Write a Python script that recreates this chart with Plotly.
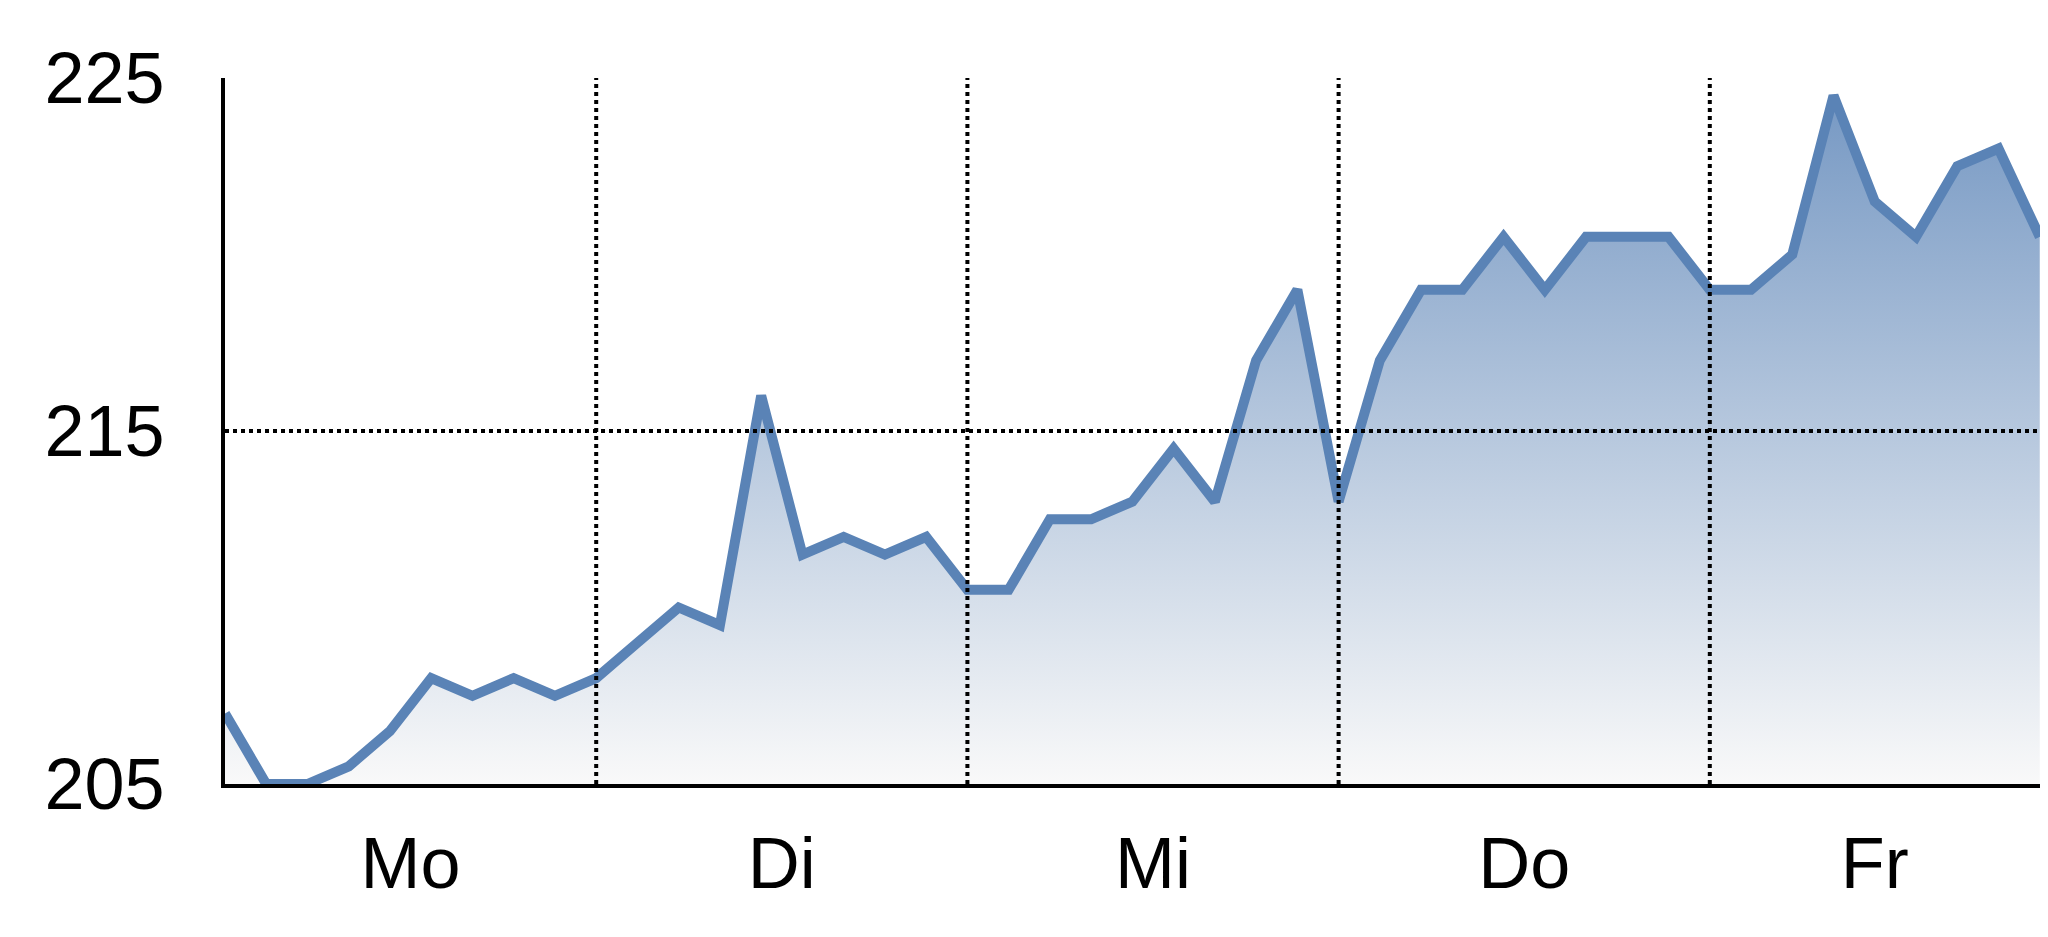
import plotly.graph_objects as go

# Kurs ueber die Woche, 9 Werte pro Tag
werte = [
    207, 205, 205, 205.5, 206.5, 208, 207.5, 208, 207.5,
    208, 209, 210, 209.5, 216, 211.5, 212, 211.5, 212,
    210.5, 210.5, 212.5, 212.5, 213, 214.5, 213, 217, 219,
    213, 217, 219, 219, 220.5, 219, 220.5, 220.5, 220.5,
    219, 219, 220, 224.5, 221.5, 220.5, 222.5, 223, 220.5,
]
tage = ["Mo", "Di", "Mi", "Do", "Fr"]
tag_pos = [4.5, 13.5, 22.5, 31.5, 40.0]
tag_grenzen = [9, 18, 27, 36]
y_ticks = [205, 215, 225]

x = list(range(len(werte)))
schrift = "Liberation Sans Narrow, Arial Narrow, Liberation Sans, Arial, sans-serif"
punkt_linie = dict(color="black", width=4, dash="4px,4px")

fig = go.Figure()
fig.add_trace(go.Scatter(
    x=x,
    y=werte,
    mode="lines",
    line=dict(color="#5a83b6", width=10),
    fill="tozeroy",
    fillgradient=dict(
        type="vertical",
        start=205,
        stop=225,
        colorscale=[[0, "#f9f9f9"], [1, "#7396c2"]],
    ),
    hoverinfo="skip",
))

# gepunktete Hilfslinien ueber der Flaeche
for g in tag_grenzen:
    fig.add_shape(type="line", xref="x", yref="y", x0=g, x1=g, y0=205, y1=225,
                  line=punkt_linie, layer="above")
fig.add_shape(type="line", xref="x domain", yref="y", x0=0, x1=1, y0=215, y1=215,
              line=punkt_linie, layer="above")

# Seite hat 8px Rand, daher 2040x929
fig.update_layout(
    width=2040,
    height=929,
    margin=dict(l=217, r=0, t=70, b=153),
    paper_bgcolor="white",
    plot_bgcolor="white",
    showlegend=False,
    font=dict(family=schrift, size=72, color="black"),
)
fig.update_xaxes(
    range=[0, 44.2],
    tickvals=tag_pos,
    ticktext=tage,
    showgrid=False,
    zeroline=False,
    showline=True,
    linecolor="black",
    linewidth=4,
    ticks="",
    ticklabelstandoff=14,
)
fig.update_yaxes(
    range=[205, 225],
    tickvals=y_ticks,
    showgrid=False,
    zeroline=False,
    showline=True,
    linecolor="black",
    linewidth=4,
    ticks="",
    ticklabelstandoff=42,
)

fig.write_html("out.html")
